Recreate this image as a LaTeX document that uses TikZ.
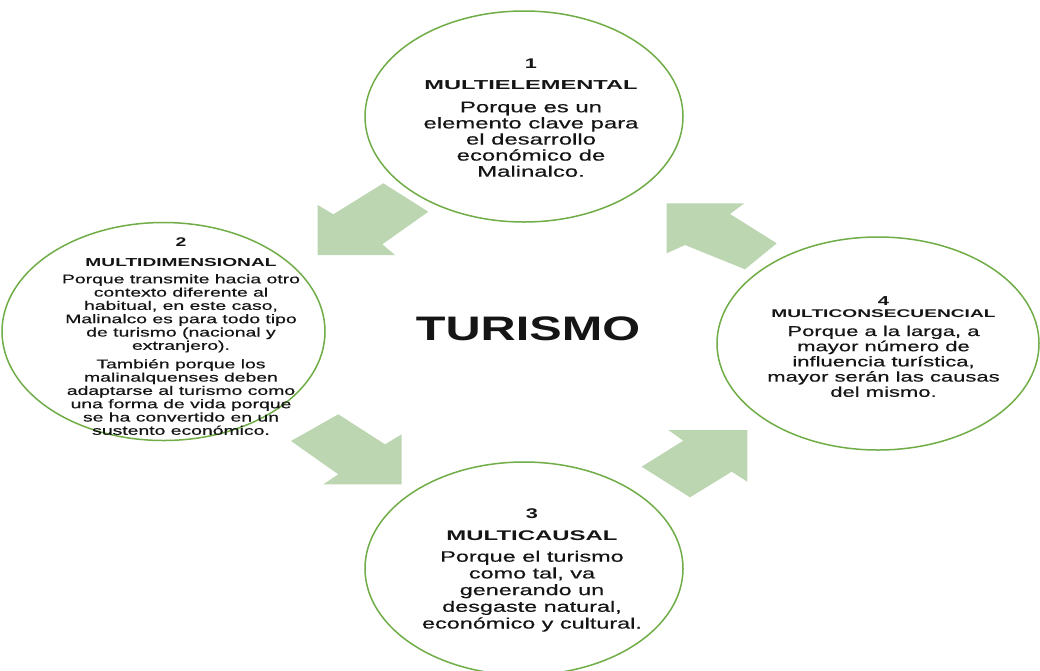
\documentclass[tikz,border=0pt]{standalone}
\usepackage{fontspec}
\usepackage{graphicx}
\setmainfont{Liberation Sans}
\definecolor{ringgreen}{HTML}{70AD47}
\definecolor{blockgreen}{HTML}{BBD6B0}
\definecolor{ink}{HTML}{151515}
\newcommand{\stretchx}[2]{\scalebox{#1}[1]{#2}}
\begin{document}
\begin{tikzpicture}[x=1pt,y=-1pt,
  ring/.style={draw=ringgreen,line width=1.5pt},
  blockarrow/.style={fill=blockgreen,draw=none},
  txt/.style={text=ink,inner sep=0pt,anchor=base},
  boldtxt/.style={txt,font=\bfseries\fontsize{#1}{#1}\selectfont},
  bodytxt/.style={txt,font=\fontsize{#1}{#1}\selectfont\addfontfeature{FakeBold=0.4}}]
\useasboundingbox (0,0) rectangle (1040,670);
\fill[white] (0,0) rectangle (1040,670);
\clip (0,0) rectangle (1040,670);

% circles
\draw[ring] (524,116.5) ellipse [x radius=159, y radius=105.5];
\draw[ring] (163.5,331.5) ellipse [x radius=161.5, y radius=109];
\draw[ring] (878,343.5) ellipse [x radius=161, y radius=106.5];
\draw[ring] (524,568.5) ellipse [x radius=159, y radius=106.5];

% block arrows
\fill[blockarrow] (317.7,255) -- (317.7,205) -- (333.3,214.3) -- (383.3,183.3) -- (428.3,211.7) -- (382.3,244.3) -- (395,255) -- cycle;
\fill[blockarrow] (666.7,203.3) -- (744.3,203.3) -- (730,214) -- (776.7,243.3) -- (745,269.3) -- (685,245) -- (666.7,253.3) -- cycle;
\fill[blockarrow] (338.3,414.3) -- (385,444.3) -- (401.7,434.3) -- (401.7,484.3) -- (323.3,484.3) -- (338.3,474.3) -- (291,441) -- cycle;
\fill[blockarrow] (668.3,430) -- (747.3,430) -- (747.3,481.7) -- (731.7,471.7) -- (690,497.3) -- (641.7,466.7) -- (683.3,440.7) -- cycle;

% center
\node[boldtxt=34,name=center] at (528,340) {\stretchx{1.43}{TURISMO}};

% circle 1
\node[boldtxt=14,name=n1] at (531,68) {\stretchx{1.55}{1}};
\node[boldtxt=13,name=t1] at (531,89.3) {\stretchx{1.82}{MULTIELEMENTAL}};
\foreach \t [count=\i] in {Porque es un, elemento clave para, el desarrollo, económico de, Malinalco.}
  \node[bodytxt=15.4,name=b1-\i] at (531,96.2+16.1*\i) {\stretchx{1.55}{\t}};

% circle 2
\node[boldtxt=12.5,name=n2] at (181,246.7) {\stretchx{1.55}{2}};
\node[boldtxt=11.6,name=t2] at (181,266.7) {\stretchx{1.65}{MULTIDIMENSIONAL}};
\foreach \t [count=\i] in {Porque transmite hacia otro, contexto diferente al, {habitual, en este caso,}, Malinalco es para todo tipo, de turismo (nacional y, extranjero).}
  \node[bodytxt=12.5,name=b2a-\i] at (181,270+13.3*\i) {\stretchx{1.55}{\t}};
\foreach \t [count=\i] in {También porque los, malinalquenses deben, adaptarse al turismo como, una forma de vida porque, se ha convertido en un, sustento económico.}
  \node[bodytxt=12.5,name=b2b-\i] at (181,355+13.3*\i) {\stretchx{1.55}{\t}};

% circle 4
\node[boldtxt=13,name=n4] at (883.5,305) {\stretchx{1.55}{4}};
\node[boldtxt=11.2,name=t4] at (883.5,317.3) {\stretchx{1.71}{MULTICONSECUENCIAL}};
\foreach \t [count=\i] in {{Porque a la larga, a}, mayor número de, {influencia turística,}, mayor serán las causas, del mismo.}
  \node[bodytxt=14.2,name=b4-\i] at (883.5,320.8+15.2*\i) {\stretchx{1.55}{\t}};

% circle 3
\node[boldtxt=14,name=n3] at (532,518) {\stretchx{1.55}{3}};
\node[boldtxt=14,name=t3] at (532,540) {\stretchx{1.71}{MULTICAUSAL}};
\foreach \t [count=\i] in {Porque el turismo, {como tal, va}, generando un, {desgaste natural,}, económico y cultural.}
  \node[bodytxt=15.1,name=b3-\i] at (532,545+16.7*\i) {\stretchx{1.55}{\t}};
\end{tikzpicture}
\end{document}
